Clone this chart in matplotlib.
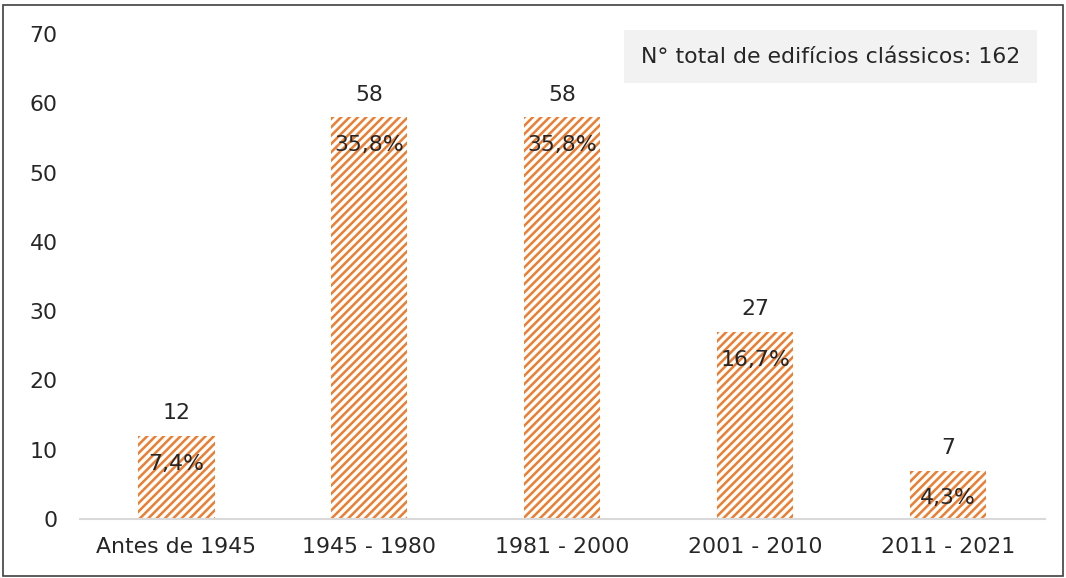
import numpy as np
import matplotlib.pyplot as plt
from matplotlib.patches import Rectangle

periodos = ['Antes de 1945', '1945 - 1980', '1981 - 2000', '2001 - 2010', '2011 - 2021']
edificios = [12, 58, 58, 27, 7]
percentagens = ['7,4%', '35,8%', '35,8%', '16,7%', '4,3%']
total = 162

laranja = '#ED7D31'
plt.rcParams['font.family'] = ['DejaVu Sans']
plt.rcParams['hatch.linewidth'] = 1.8
plt.rcParams['hatch.color'] = laranja

fig = plt.figure(figsize=(10.66, 5.78), dpi=100)
ax = fig.add_axes([0.075, 0.102, 0.905, 0.839])

fs = 15.8
x = np.arange(len(periodos))
ax.bar(x, edificios, width=0.395, color='white', edgecolor=laranja, hatch='////', linewidth=0)

for xi, v, p in zip(x, edificios, percentagens):
    ax.annotate(str(v), (xi, v), xytext=(0, 9), textcoords='offset points',
                ha='center', va='bottom', fontsize=fs, color='#262626')
    ax.annotate(p, (xi, v), xytext=(0, -20), textcoords='offset points',
                ha='center', va='center', fontsize=fs, color='#262626')

ax.set_xlim(-0.5, len(periodos) - 0.5)
ax.set_ylim(0, 70)
ax.set_yticks(range(0, 71, 10))
ax.set_xticks(x)
ax.set_xticklabels(periodos)
ax.tick_params(axis='both', length=0, labelsize=fs, colors='#262626')
ax.tick_params(axis='y', pad=16)
ax.tick_params(axis='x', pad=13)
for s in ['top', 'right', 'left']:
    ax.spines[s].set_visible(False)
ax.spines['bottom'].set_color('#D9D9D9')
ax.spines['bottom'].set_linewidth(1.5)

ax.text(0.778, 0.953, f'N° total de edifícios clássicos: {total}', transform=ax.transAxes,
        ha='center', va='center', fontsize=fs, color='#262626',
        bbox=dict(boxstyle='square,pad=0.75', facecolor='#F2F2F2', edgecolor='none'))

fig.patches.append(Rectangle((0.003, 0.003), 0.994, 0.988, transform=fig.transFigure,
                             fill=False, edgecolor='#404040', linewidth=1.2))

fig.savefig('out.png', dpi=100)
